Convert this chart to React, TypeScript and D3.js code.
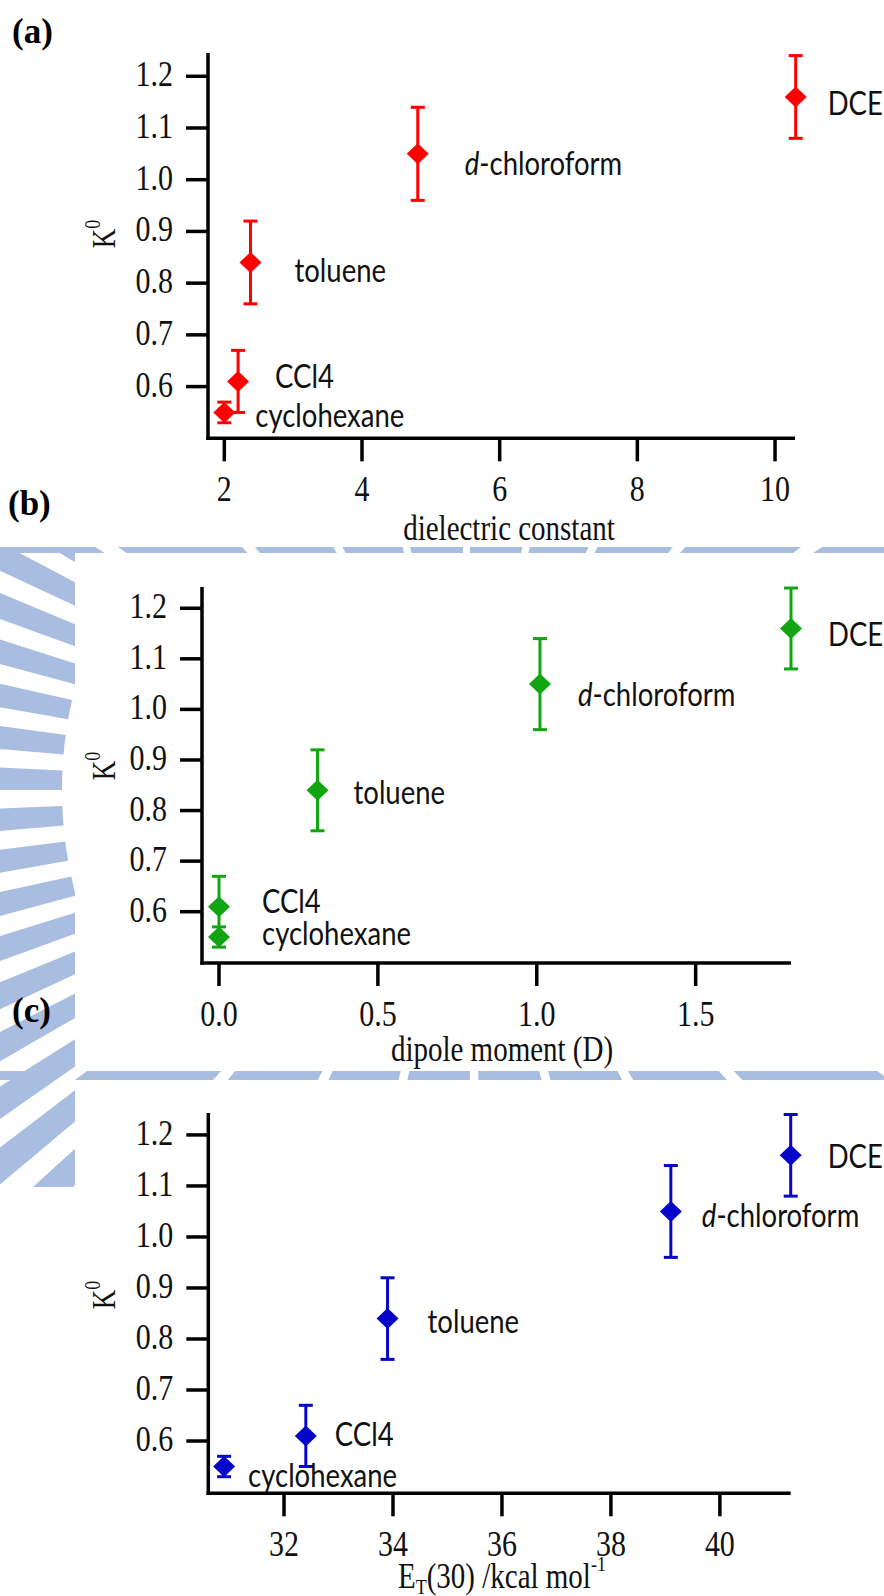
import React from "react";
import * as d3 from "d3";

// solvents, K0 and error, three solvent parameters
const solvents = ["cyclohexane", "CCl4", "toluene", "d-chloroform", "DCE"];
const k0 = [0.55, 0.61, 0.84, 1.05, 1.16];
const k0Err = [0.02, 0.06, 0.08, 0.09, 0.08];
const dielectric = [2.0, 2.2, 2.38, 4.81, 10.3];
const dipole = [0.0, 0.0, 0.31, 1.01, 1.8];
const et30 = [30.9, 32.4, 33.9, 39.1, 41.3];

const yTicks = [0.6, 0.7, 0.8, 0.9, 1.0, 1.1, 1.2];
const dielectricTicks = [2, 4, 6, 8, 10];
const dipoleTicks = [0.0, 0.5, 1.0, 1.5];
const etTicks = [32, 34, 36, 38, 40];

const W = 884;
const H = 1596;
const SERIF = "'Liberation Serif', 'Times New Roman', serif";
const SANS = "Lato, 'Noto Sans', sans-serif";
const TICK = 22;

const panels = [
  {
    key: "a", title: "(a)", titleX: 12, titleY: 43,
    xVals: dielectric, xTicks: dielectricTicks, xFmt: d3.format("d"),
    color: "#ff0000",
    xDomain: [1.763, 10.29], xRange: [208, 795],
    yDomain: [0.5, 1.245], yRange: [438.3, 53],
    kY: 234, xTitleX: 509, xTitleY: 540,
    offsets: [[31, 15], [37, 7], [44, 20], [47, 21], [32, 18]],
  },
  {
    key: "b", title: "(b)", titleX: 8, titleY: 515,
    xVals: dipole, xTicks: dipoleTicks, xFmt: d3.format(".1f"),
    color: "#12a512",
    xDomain: [-0.0535, 1.8], xRange: [202, 791],
    yDomain: [0.4986, 1.242], yRange: [963, 587],
    kY: 766, xTitleX: 502, xTitleY: 1061,
    offsets: [[43, 8], [43, 6], [36, 14], [38, 22], [37, 18]],
  },
  {
    key: "c", title: "(c)", titleX: 12, titleY: 1022,
    xVals: et30, xTicks: etTicks, xFmt: d3.format("d"),
    color: "#0606c8",
    xDomain: [30.61, 41.3], xRange: [208.3, 790.7],
    yDomain: [0.4975, 1.243], yRange: [1493.3, 1113],
    kY: 1295, xTitleX: 398, xTitleY: 1588,
    offsets: [[24, 20], [29, 10], [40, 14], [31, 16], [37, 13]],
  },
];

const Watermark = () => {
  const cx = 470;
  const cy = 790;
  const wedge = (inner: number, n: number, fill: number, outer: number) =>
    d3.range(n).map((i) => {
      const a0 = (i / n) * Math.PI * 2;
      const a1 = a0 + (fill / n) * Math.PI * 2;
      return d3.arc()({ innerRadius: inner, outerRadius: outer, startAngle: a0, endAngle: a1 } as any) as string;
    });
  const strip = wedge(408, 72, 0.55, 1100);
  const bands = wedge(0, 26, 0.88, 1400);
  return (
    <g>
      <defs>
        <clipPath id="wm-strip">
          <rect x={0} y={547} width={75} height={640} />
        </clipPath>
        <clipPath id="wm-bands">
          <rect x={0} y={547} width={W} height={6} />
          <rect x={0} y={1071} width={W} height={9} />
        </clipPath>
      </defs>
      <g clipPath="url(#wm-strip)" fill="#a9bde0">
        {strip.map((d, i) => (
          <path key={i} d={d} transform={`translate(${cx},${cy})`} />
        ))}
      </g>
      <g clipPath="url(#wm-bands)" fill="#a9bde0">
        {bands.map((d, i) => (
          <path key={i} d={d} transform={`translate(${cx},${cy})`} />
        ))}
      </g>
    </g>
  );
};

const Panel = ({ p }: { p: any }) => {
  const x = d3.scaleLinear().domain(p.xDomain).range(p.xRange);
  const y = d3.scaleLinear().domain(p.yDomain).range(p.yRange);
  const x0 = p.xRange[0];
  const xEnd = p.xRange[1];
  const yTop = p.yRange[1];
  const yBot = p.yRange[0];
  const yFmt = d3.format(".1f");

  return (
    <g>
      <text x={p.titleX} y={p.titleY} fontFamily={SERIF} fontWeight="bold" fontSize={35}>
        {p.title}
      </text>

      {/* axes */}
      <g stroke="#000" strokeWidth={3.5}>
        <line x1={x0} x2={x0} y1={yTop} y2={yBot + 1.75} />
        <line x1={x0 - 1.75} x2={xEnd} y1={yBot} y2={yBot} />
        {yTicks.map((t) => (
          <line key={t} x1={x0 - TICK} x2={x0} y1={y(t)} y2={y(t)} />
        ))}
        {p.xTicks.map((t: number) => (
          <line key={t} x1={x(t)} x2={x(t)} y1={yBot} y2={yBot + 23} />
        ))}
      </g>
      <g fontFamily={SERIF} fontSize={30} fill="#111">
        {yTicks.map((t) => (
          <text key={t} textAnchor="end" transform={`translate(${x0 - 35},${y(t) + 10}) scale(1,1.2)`}>
            {yFmt(t)}
          </text>
        ))}
        {p.xTicks.map((t: number) => (
          <text key={t} textAnchor="middle" transform={`translate(${x(t)},${yBot + 63}) scale(1,1.2)`}>
            {p.xFmt(t)}
          </text>
        ))}
      </g>

      <text
        fontFamily={SERIF}
        fontSize={27}
        fill="#111"
        textAnchor="middle"
        transform={`translate(115,${p.kY}) rotate(-90) scale(1,1.25)`}
      >
        K<tspan dy={-12} fontSize={18}>0</tspan>
      </text>

      {p.key === "c" ? (
        <text fontFamily={SERIF} fontSize={29} fill="#111" transform={`translate(${p.xTitleX},${p.xTitleY}) scale(1,1.2)`}>
          E<tspan dy={5} fontSize={18}>T</tspan>
          <tspan dy={-5}>(30) /kcal mol</tspan>
          <tspan dy={-14} fontSize={18}>-1</tspan>
        </text>
      ) : (
        <text
          fontFamily={SERIF}
          fontSize={29}
          fill="#111"
          textAnchor="middle"
          transform={`translate(${p.xTitleX},${p.xTitleY}) scale(1,1.2)`}
        >
          {p.key === "a" ? "dielectric constant" : "dipole moment (D)"}
        </text>
      )}

      {/* points */}
      <g stroke={p.color} fill={p.color} strokeWidth={3}>
        {solvents.map((s, i) => {
          const px = x(p.xVals[i]);
          const py = y(k0[i]);
          const yHi = y(k0[i] + k0Err[i]);
          const yLo = y(k0[i] - k0Err[i]);
          return (
            <g key={s}>
              <line x1={px} x2={px} y1={yHi} y2={yLo} />
              <line x1={px - 7} x2={px + 7} y1={yHi} y2={yHi} />
              <line x1={px - 7} x2={px + 7} y1={yLo} y2={yLo} />
              <path
                stroke="none"
                d={`M${px},${py - 10.5}L${px + 11},${py}L${px},${py + 10.5}L${px - 11},${py}Z`}
              />
            </g>
          );
        })}
      </g>

      <g fontFamily={SANS} fontSize={27.5} fill="#111">
        {solvents.map((s, i) => {
          const [dx, dy] = p.offsets[i];
          const px = x(p.xVals[i]) + dx;
          const py = y(k0[i]) + dy;
          return (
            <text key={s} transform={`translate(${px},${py}) scale(1,1.18)`}>
              {s === "d-chloroform" ? (
                <>
                  <tspan fontStyle="italic">d</tspan>-chloroform
                </>
              ) : (
                s
              )}
            </text>
          );
        })}
      </g>
    </g>
  );
};

const App = () => (
  <svg
    width={W}
    height={H}
    viewBox={`0 0 ${W} ${H}`}
    style={{ position: "absolute", left: 0, top: 0, background: "#fff" }}
  >
    <rect width={W} height={H} fill="#fff" />
    <Watermark />
    {panels.map((p) => (
      <Panel key={p.key} p={p} />
    ))}
  </svg>
);

export default App;
